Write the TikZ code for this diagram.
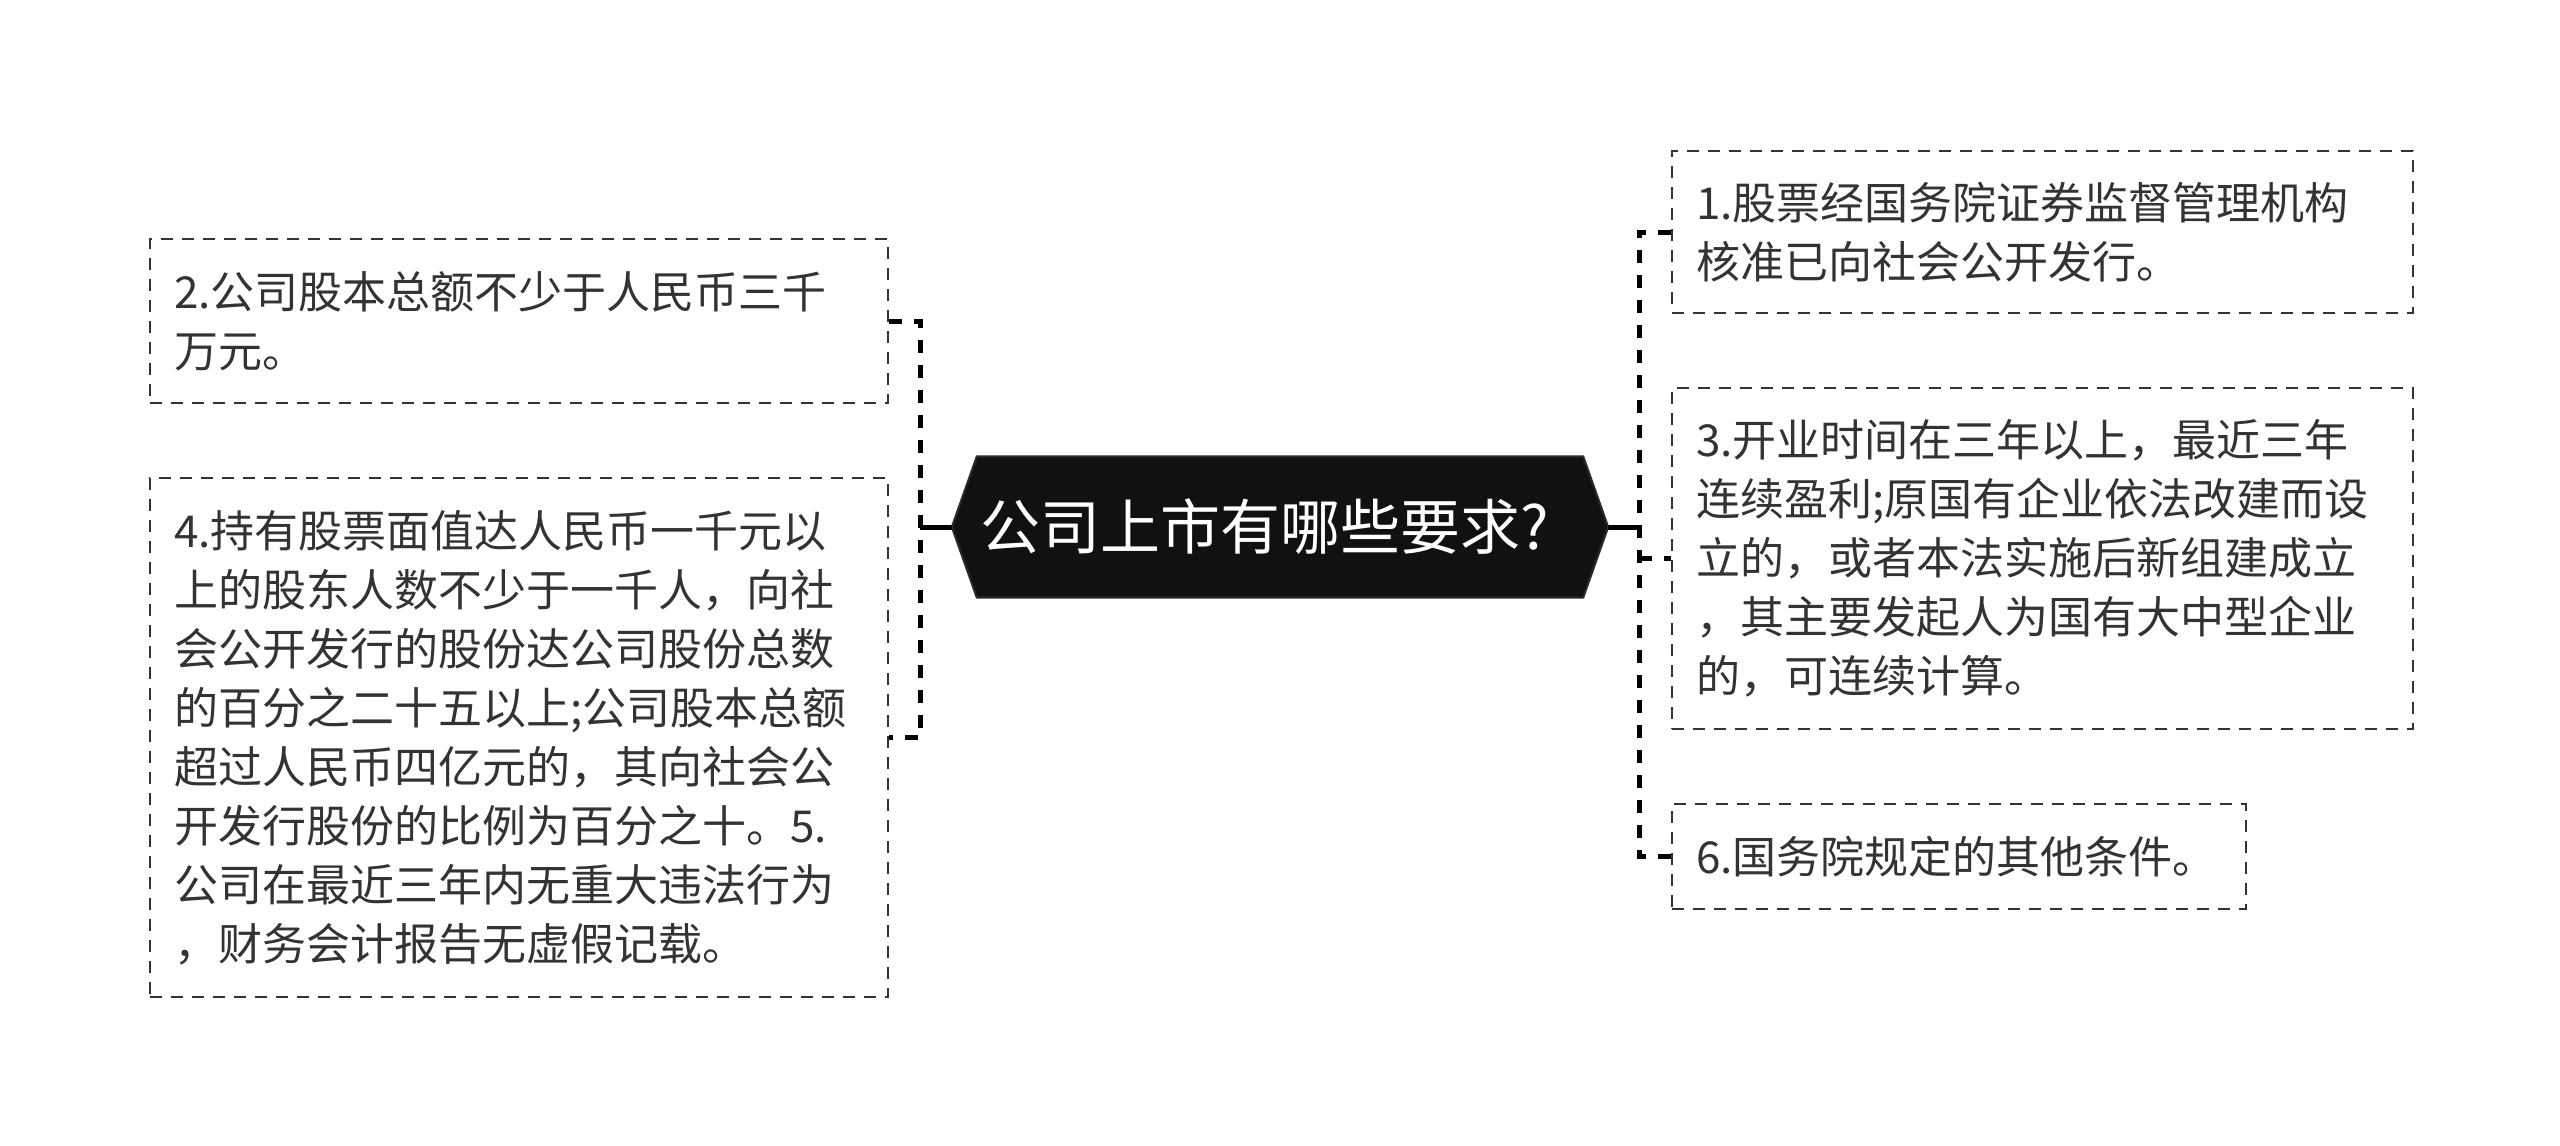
\documentclass[tikz,border=0pt]{standalone}
\usepackage{fontspec}
\setmainfont{Noto Sans CJK SC}
\usetikzlibrary{backgrounds}
\definecolor{txt}{HTML}{333333}
\definecolor{hexfill}{HTML}{111111}
\definecolor{hexline}{HTML}{2B2B2B}
\tikzset{
  box/.style={draw=txt, line width=2pt, dash pattern=on 12pt off 9pt, anchor=north west,
    align=left, inner xsep=24pt, inner ysep=0pt, text=txt,
    font=\fontsize{44}{59}\selectfont},
  conn/.style={line width=5pt, dash pattern=on 13pt off 12pt},
  link/.style={line width=5pt},
  title/.style={text=white, inner sep=0pt, minimum width=656pt, minimum height=141pt,
    font=\fontsize{60}{72}\selectfont},
}
\begin{document}
\begin{tikzpicture}[x=1pt,y=-1pt]
\useasboundingbox (0,0) rectangle (2560,1146);

% central node
\node[title] (c) at (1280,527) {公司上市有哪些要求?\kern30pt};
\begin{scope}[on background layer]
\draw[fill=hexfill, draw=hexline, line width=2pt]
  (c.west) -- ([xshift=25pt]c.north west) -- ([xshift=-25pt]c.north east) -- (c.east)
  -- ([xshift=-25pt]c.south east) -- ([xshift=25pt]c.south west) -- cycle;
\end{scope}

% left boxes
\node[box, minimum width=738pt, minimum height=164pt, text width=690pt] (b2) at (149,238)
  {2.公司股本总额不少于人民币三千\\万元。};
\node[box, minimum width=738pt, minimum height=519pt, text width=690pt] (b4) at (149,477)
  {4.持有股票面值达人民币一千元以\\上的股东人数不少于一千人，向社\\会公开发行的股份达公司股份总数\\的百分之二十五以上;公司股本总额\\超过人民币四亿元的，其向社会公\\开发行股份的比例为百分之十。5.\\公司在最近三年内无重大违法行为\\，财务会计报告无虚假记载。};

% right boxes
\node[box, minimum width=741pt, minimum height=162pt, text width=693pt] (b1) at (1671,150)
  {1.股票经国务院证券监督管理机构\\核准已向社会公开发行。};
\node[box, minimum width=741pt, minimum height=341pt, text width=693pt] (b3) at (1671,387)
  {3.开业时间在三年以上，最近三年\\连续盈利;原国有企业依法改建而设\\立的，或者本法实施后新组建成立\\，其主要发起人为国有大中型企业\\的，可连续计算。};
\node[box, minimum width=574pt, minimum height=105pt, text width=526pt] (b6) at (1671,803)
  {6.国务院规定的其他条件。};

% connectors
\coordinate (lx) at (920,527);
\coordinate (rx) at (1639,527);
\draw[link] (c.west) -- (lx);
\draw[conn] (b2.east) -- (b2.east -| lx) -- (b4.east -| lx) -- (b4.east);
\draw[link] (c.east) -- (rx);
\draw[conn] (b1.west) -- (b1.west -| rx) -- (b6.west -| rx) -- (b6.west);
\draw[conn] (b3.west -| rx) -- (b3.west);
\end{tikzpicture}
\end{document}
